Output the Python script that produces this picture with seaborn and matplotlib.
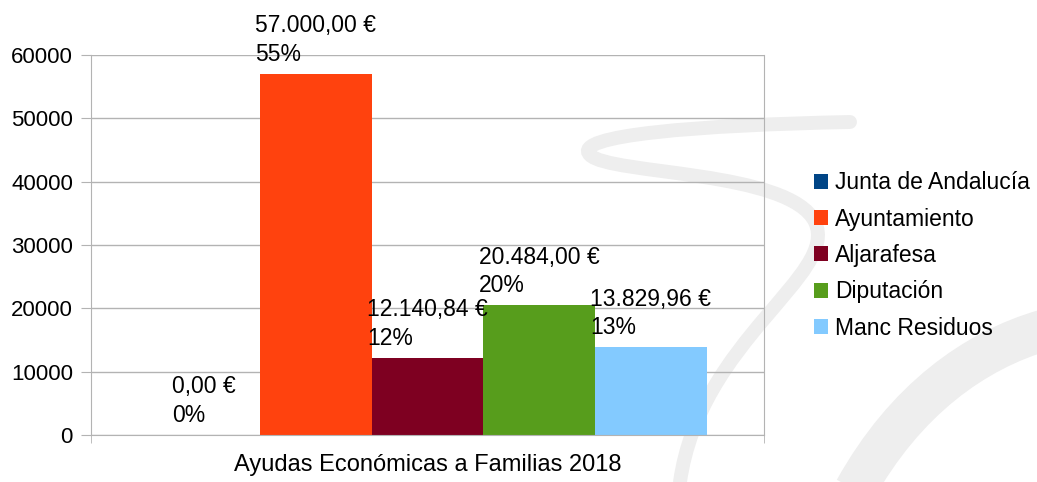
import matplotlib
matplotlib.use('Agg')
import matplotlib.pyplot as plt
import pandas as pd
import seaborn as sns
from matplotlib.patches import Patch, PathPatch
from matplotlib.path import Path

# Data
categoria = 'Ayudas Económicas a Familias 2018'
entidades = ['Junta de Andalucía', 'Ayuntamiento', 'Aljarafesa', 'Diputación', 'Manc Residuos']
importes = [0.00, 57000.00, 12140.84, 20484.00, 13829.96]
porcentajes = [0, 55, 12, 20, 13]
colores = ['#004586', '#ff420e', '#7e0021', '#579d1c', '#83caff']

df = pd.DataFrame({'categoria': [categoria] * len(entidades),
                   'entidad': entidades,
                   'importe': importes})


def euros(v):
    s = f'{v:,.2f}'
    s = s.replace(',', 'X').replace('.', ',').replace('X', '.')
    return s + ' €'


sns.set_style('white')
plt.rcParams['font.family'] = ['Liberation Sans', 'DejaVu Sans']
plt.rcParams['text.color'] = 'black'
plt.rcParams['xtick.color'] = 'black'
plt.rcParams['ytick.color'] = 'black'

fig = plt.figure(figsize=(10.37, 4.82), dpi=100)

# faint watermark swoosh in the background (pixel coords)
bg = fig.add_axes([0, 0, 1, 1], zorder=-1)
bg.set_xlim(0, 1037)
bg.set_ylim(482, 0)
bg.axis('off')
C4 = Path.CURVE4
swoosh = Path([(850, 122), (700, 125), (570, 135), (590, 155),
               (610, 175), (790, 170), (815, 222),
               (840, 275), (700, 340), (680, 482)],
              [Path.MOVETO, C4, C4, C4, C4, C4, C4, C4, C4, C4])
bg.add_patch(PathPatch(swoosh, fill=False, edgecolor='#eeeeee', lw=10, capstyle='round'))
arco = Path([(855, 490), (905, 400), (975, 350), (1045, 330)],
            [Path.MOVETO, C4, C4, C4])
bg.add_patch(PathPatch(arco, fill=False, edgecolor='#eeeeee', lw=30))

ax = fig.add_axes([0.0878, 0.0975, 0.6489, 0.7885])
ax.patch.set_alpha(0)
sns.barplot(data=df, x='categoria', y='importe', hue='entidad',
            hue_order=entidades, palette=colores, width=0.83, gap=0,
            saturation=1, ax=ax, legend=False, linewidth=0)

ax.set_xlim(-0.5, 0.5)
ax.set_ylim(0, 60000)
ax.set_yticks(range(0, 60001, 10000))
ax.set_xlabel('')
ax.set_ylabel('')
ax.grid(axis='y', color='#b3b3b3', linewidth=1)
ax.set_axisbelow(True)
ax.spines['top'].set_visible(False)
for s in ['left', 'bottom', 'right']:
    ax.spines[s].set_color('#b3b3b3')
ax.tick_params(axis='y', length=7, color='#b3b3b3', labelsize=16, pad=6, left=True)
ax.tick_params(axis='x', length=0, labelsize=17, pad=14)
ax.set_xticks([-0.5, 0.5], minor=True)
ax.tick_params(axis='x', which='minor', length=6, color='#b3b3b3', bottom=True)

# value labels
for bar, v, p in zip(ax.patches, importes, porcentajes):
    x = bar.get_x() + bar.get_width() / 2
    ax.annotate(f'{euros(v)}\n{p}%', (x, bar.get_height()),
                xytext=(0, 6), textcoords='offset points',
                ha='center', va='bottom', multialignment='left',
                fontsize=16.5, linespacing=1.3, annotation_clip=False)

handles = [Patch(facecolor=c, edgecolor='none') for c in colores]
fig.legend(handles, entidades, loc='center left', bbox_to_anchor=(0.765, 0.47),
           frameon=False, fontsize=16.5, handlelength=0.62, handleheight=0.62,
           handletextpad=0.3, labelspacing=0.58)

fig.savefig('out.png', dpi=100)
